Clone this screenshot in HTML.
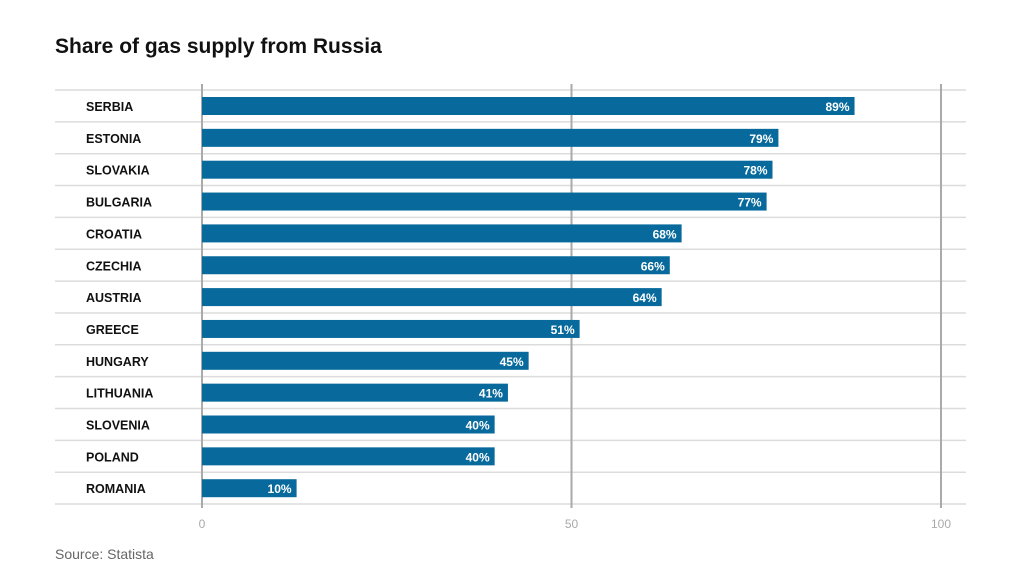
<!DOCTYPE html>
<html><head><meta charset="utf-8"><style>
body{margin:0;background:#fff;width:1024px;height:583px;overflow:hidden;font-family:"Liberation Sans",sans-serif}
</style></head><body>
<svg id="c" width="1024" height="583">
<text x="55" y="53" font-size="21" font-weight="bold" fill="#111">Share of gas supply from Russia</text>
<text x="55" y="559" font-size="14" fill="#666">Source: Statista</text>
<g id="g"></g>
</svg>
<script>
const categories=["SERBIA","ESTONIA","SLOVAKIA","BULGARIA","CROATIA","CZECHIA","AUSTRIA","GREECE","HUNGARY","LITHUANIA","SLOVENIA","POLAND","ROMANIA"];
const values=[88.3,78,77.2,76.4,64.9,63.3,62.2,51.1,44.2,41.4,39.6,39.6,12.8];
const labels=["89%","79%","78%","77%","68%","66%","64%","51%","45%","41%","40%","40%","10%"];
const ticks=[0,50,100];
const ns="http://www.w3.org/2000/svg",g=document.getElementById('g');
const x0=202,x1=941,yTop=90,rowH=31.85;
const xs=v=>x0+(x1-x0)*v/100;
function mk(t,a){const e=document.createElementNS(ns,t);for(const k in a)e.setAttribute(k,a[k]);g.appendChild(e);return e;}
for(let i=0;i<=categories.length;i++){
 const l=mk('line',{x1:55,x2:966,y1:yTop+i*rowH,y2:yTop+i*rowH,stroke:'#dcdcdc','stroke-width':1.5});
 
 
}
ticks.forEach(t=>{
 const l=mk('line',{x1:xs(t),x2:xs(t),y1:84,y2:508,stroke:'#aaa','stroke-width':2});
 
 
 const tx=mk('text',{x:xs(t),y:528,'text-anchor':'middle','font-size':12,fill:'#aaa'});
 tx.textContent=t;
 
 
});
categories.forEach((c,i)=>{
 const y=yTop+i*rowH;
 const lb=mk('text',{x:86,y:y+21,'font-size':12.5,'font-weight':'bold',fill:'#111'});
 lb.textContent=c;
 
 
 const r=mk('rect',{x:x0,y:y+7,width:xs(values[i])-x0,height:18,fill:'#086a9c'});
 
 
 const v=mk('text',{x:xs(values[i])-5,y:y+21,'text-anchor':'end','font-size':12,'font-weight':'bold',fill:'#fff'});
 v.textContent=labels[i];
 
 
});
</script>
</body></html>
